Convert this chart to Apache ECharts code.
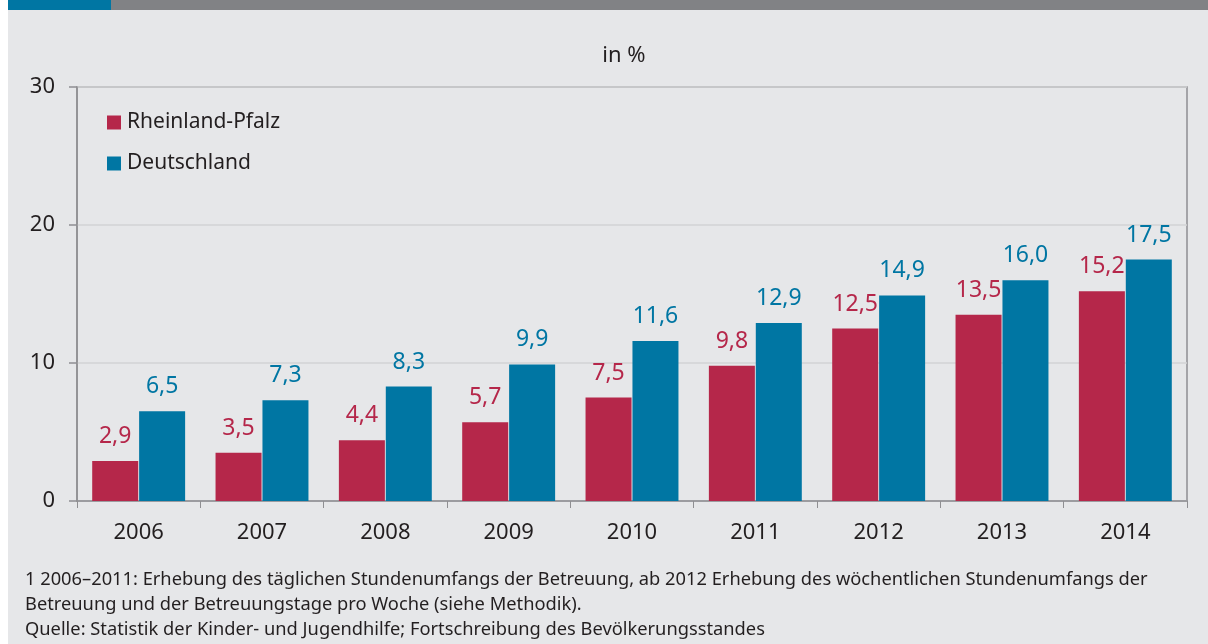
<!DOCTYPE html>
<html><head><meta charset="utf-8">
<script src="https://cdn.jsdelivr.net/npm/echarts@6/dist/echarts.min.js"></script>
<style>html,body{margin:0;padding:0;background:#fff}#c{width:1208px;height:644px}</style>
</head><body><div id="c"></div>
<script>
const categories = ['2006','2007','2008','2009','2010','2011','2012','2013','2014'];
const rlp = [2.9,3.5,4.4,5.7,7.5,9.8,12.5,13.5,15.2];
const de = [6.5,7.3,8.3,9.9,11.6,12.9,14.9,16.0,17.5];
const seriesNames = ['Rheinland-Pfalz','Deutschland'];
const yTicks = {min:0, max:30, interval:10};
const footnotes = [
  '1 2006–2011: Erhebung des täglichen Stundenumfangs der Betreuung, ab 2012 Erhebung des wöchentlichen Stundenumfangs der',
  'Betreuung und der Betreuungstage pro Woche (siehe Methodik).',
  'Quelle: Statistik der Kinder- und Jugendhilfe; Fortschreibung des Bevölkerungsstandes'
];
const RED = '#b5274a', BLUE = '#0076a3', TXT = '#231f20';
const FONT = '"Noto Sans", "Open Sans", sans-serif';
const chart = echarts.init(document.getElementById('c'), null, {renderer:'canvas'});
const fmt = p => p.value.toFixed(1).replace('.', ',');
chart.setOption({
  backgroundColor: '#e6e7e9',
  textStyle: {fontFamily: FONT},
  animation: false,
  title: {text: 'in %', left: 619, top: 40, textAlign: 'center',
    textStyle: {fontFamily: FONT, fontSize: 22, fontWeight: 'normal', color: TXT}},
  legend: {orient: 'vertical', left: 107, top: 111, padding: 0, itemWidth: 14, itemHeight: 14, itemGap: 18,
    icon: 'rect', textStyle: {fontFamily: FONT, fontSize: 21, lineHeight: 23, color: TXT, padding: [0,0,0,1]},
    data: seriesNames},
  grid: {left: 77, right: 21, top: 87, bottom: 143, show: true, borderColor: '#8f8f92', borderWidth: 1.5,
    backgroundColor: 'transparent'},
  xAxis: {type: 'category', data: categories,
    axisLine: {lineStyle: {color: '#8f8f92', width: 1.5}},
    axisTick: {show: true, length: 7, lineStyle: {color: '#8f8f92', width: 1}},
    axisLabel: {fontFamily: FONT, fontSize: 22, color: TXT, margin: 21}},
  yAxis: {type: 'value', min: yTicks.min, max: yTicks.max, interval: yTicks.interval,
    axisLine: {show: true, lineStyle: {color: '#8f8f92', width: 1.5}},
    axisTick: {show: true, length: 8, lineStyle: {color: '#8f8f92', width: 1.5}},
    axisLabel: {fontFamily: FONT, fontSize: 22, color: TXT, margin: 22},
    splitLine: {lineStyle: {color: '#d2d3d5', width: 1.5}}},
  series: [
    {name: seriesNames[0], type: 'bar', data: rlp, barWidth: 46, barGap: '2%',
      itemStyle: {color: RED},
      label: {show: true, position: 'top', distance: 13, formatter: fmt,
        fontFamily: FONT, fontSize: 23, color: RED}},
    {name: seriesNames[1], type: 'bar', data: de, barWidth: 46,
      itemStyle: {color: BLUE},
      label: {show: true, position: 'top', distance: 13, formatter: fmt,
        fontFamily: FONT, fontSize: 23, color: BLUE}}
  ],
  graphic: [
    {type: 'rect', shape: {x: 0, y: 0, width: 8, height: 644}, style: {fill: '#ffffff'}, z: 10},
    {type: 'rect', shape: {x: 8, y: 0, width: 103, height: 10}, style: {fill: '#0076a3'}, z: 10},
    {type: 'rect', shape: {x: 111, y: 0, width: 1097, height: 10}, style: {fill: '#818285'}, z: 10},
    ...footnotes.map((t, i) => ({type: 'text', left: 25, top: 571 + i * 25,
      style: {text: t, fontFamily: FONT, fontSize: 18.3, fill: TXT}, z: 10}))
  ]
});
</script></body></html>
